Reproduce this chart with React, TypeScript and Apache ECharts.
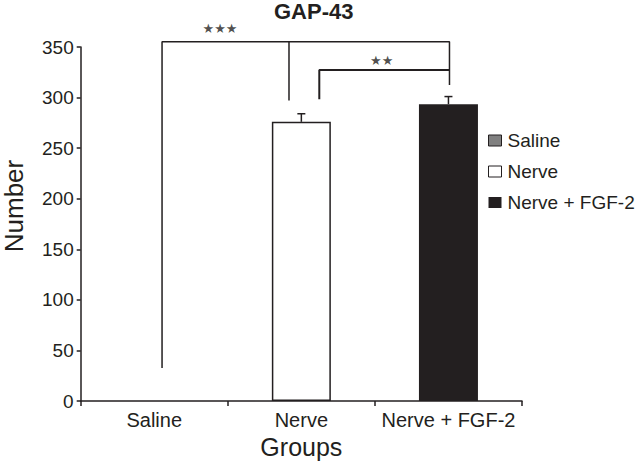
import React, { useEffect, useRef } from "react";
import * as echarts from "echarts";

// groups on the x axis and the three series of the legend
const groups = ["Saline", "Nerve", "Nerve + FGF-2"];
const seriesNames = ["Saline", "Nerve", "Nerve + FGF-2"];
const means = [0, 276, 293.5];
const sems = [0, 8, 7.5];
const barColors = ["#808080", "#ffffff", "#231f20"];

// significance brackets, in (group units, Number) on a hidden value axis
const bracketOuter = [
  [0.553, 32.6],
  [0.553, 355.3],
  [2.507, 355.3],
  [2.507, 312.4],
];
const bracketMiddle = [
  [1.416, 355.3],
  [1.416, 297],
];
const bracketInner = [
  [1.622, 298.3],
  [1.622, 327.3],
  [2.507, 327.3],
];
const stars = [
  { value: [0.947, 367.8], text: "★★★" },
  { value: [2.046, 336.7], text: "★★" },
];

const INK = "#231f20";
const FONT = "'Liberation Sans', Arial, sans-serif";

const App = () => {
  const chartRef = useRef<HTMLDivElement>(null);

  useEffect(() => {
    if (!chartRef.current) return;
    const chart = echarts.init(chartRef.current, undefined, { renderer: "svg" });

    // one bar series per group so the legend shows all three
    const barSeries = seriesNames.map((name, i) => ({
      name,
      type: "bar",
      stack: "groups",
      barWidth: 59,
      data: groups.map((_, j) => (j === i ? means[j] : "-")),
      itemStyle: {
        color: barColors[i],
        borderColor: INK,
        borderWidth: i === 1 ? 1.5 : 0,
      },
    }));

    const option = {
      animation: false,
      textStyle: { fontFamily: FONT, color: INK },
      title: {
        text: "GAP-43",
        left: 274,
        top: 0,
        padding: 0,
        textStyle: { fontFamily: FONT, fontSize: 22, fontWeight: "bold", color: INK },
      },
      legend: {
        data: seriesNames.map((name, i) => ({
          name,
          itemStyle: {
            color: barColors[i],
            borderColor: INK,
            borderWidth: i === 2 ? 0 : 1,
          },
        })),
        orient: "vertical",
        left: 488,
        top: 131,
        padding: 0,
        icon: "rect",
        itemWidth: 13,
        itemHeight: 11,
        itemGap: 12,
        selectedMode: false,
        textStyle: { fontFamily: FONT, fontSize: 19, color: INK, padding: [0, 0, 0, 1] },
      },
      grid: { left: 80.7, right: 117, top: 47, bottom: 60, outerBoundsMode: "none", containLabel: false },
      xAxis: [
        {
          type: "category",
          data: groups,
          name: "Groups",
          nameLocation: "middle",
          nameGap: 22,
          nameTextStyle: { fontFamily: FONT, fontSize: 25, color: INK },
          axisLine: { lineStyle: { color: INK, width: 1.5 } },
          axisTick: { show: true, length: 5, lineStyle: { color: INK, width: 1.5 } },
          axisLabel: { interval: 0, fontFamily: FONT, fontSize: 20, color: INK, margin: 9 },
        },
        {
          type: "value",
          min: 0,
          max: 3,
          show: false,
        },
      ],
      yAxis: {
        type: "value",
        min: 0,
        max: 350,
        interval: 50,
        name: "Number",
        nameLocation: "middle",
        nameGap: 54,
        nameTextStyle: { fontFamily: FONT, fontSize: 26, color: INK, padding: [0, 0, 0, 36] },
        axisLine: { show: true, lineStyle: { color: INK, width: 1.5 } },
        axisTick: { show: true, length: 4, lineStyle: { color: INK, width: 1.5 } },
        axisLabel: { fontFamily: FONT, fontSize: 19, color: INK, margin: 7 },
        splitLine: { show: false },
      },
      series: [
        ...barSeries,
        {
          type: "custom",
          name: "sem",
          silent: true,
          data: means.map((m, i) => [i, m, sems[i]]).filter((d) => d[2] > 0),
          renderItem: (_params: any, api: any) => {
            const base = api.coord([api.value(0), api.value(1)]);
            const top = api.coord([api.value(0), api.value(1) + api.value(2)]);
            const style = { stroke: INK, lineWidth: 1.5 };
            return {
              type: "group",
              children: [
                { type: "line", shape: { x1: base[0], y1: base[1], x2: top[0], y2: top[1] }, style },
                { type: "line", shape: { x1: top[0] - 4, y1: top[1], x2: top[0] + 4, y2: top[1] }, style },
              ],
            };
          },
          z: 3,
        },
        ...[
          { data: bracketOuter, width: 1.5 },
          { data: bracketMiddle, width: 1.5 },
          { data: bracketInner, width: 2 },
        ].map((b) => ({
          type: "line",
          xAxisIndex: 1,
          data: b.data,
          symbol: "none",
          clip: false,
          silent: true,
          lineStyle: { color: INK, width: b.width },
        })),
        {
          type: "scatter",
          xAxisIndex: 1,
          symbolSize: 0,
          clip: false,
          silent: true,
          data: stars.map((s) => ({ value: s.value, text: s.text })),
          label: {
            show: true,
            position: "inside",
            formatter: (p: any) => p.data.text,
            fontFamily: "'DejaVu Sans', sans-serif",
            fontSize: 13,
            color: INK,
          },
        },
      ],
    };

    chart.setOption(option);
    return () => {
      chart.dispose();
    };
  }, []);

  return (
    <div
      ref={chartRef}
      style={{ position: "absolute", left: 0, top: 0, width: "639px", height: "461px", background: "#fff" }}
    ></div>
  );
};

export default App;
